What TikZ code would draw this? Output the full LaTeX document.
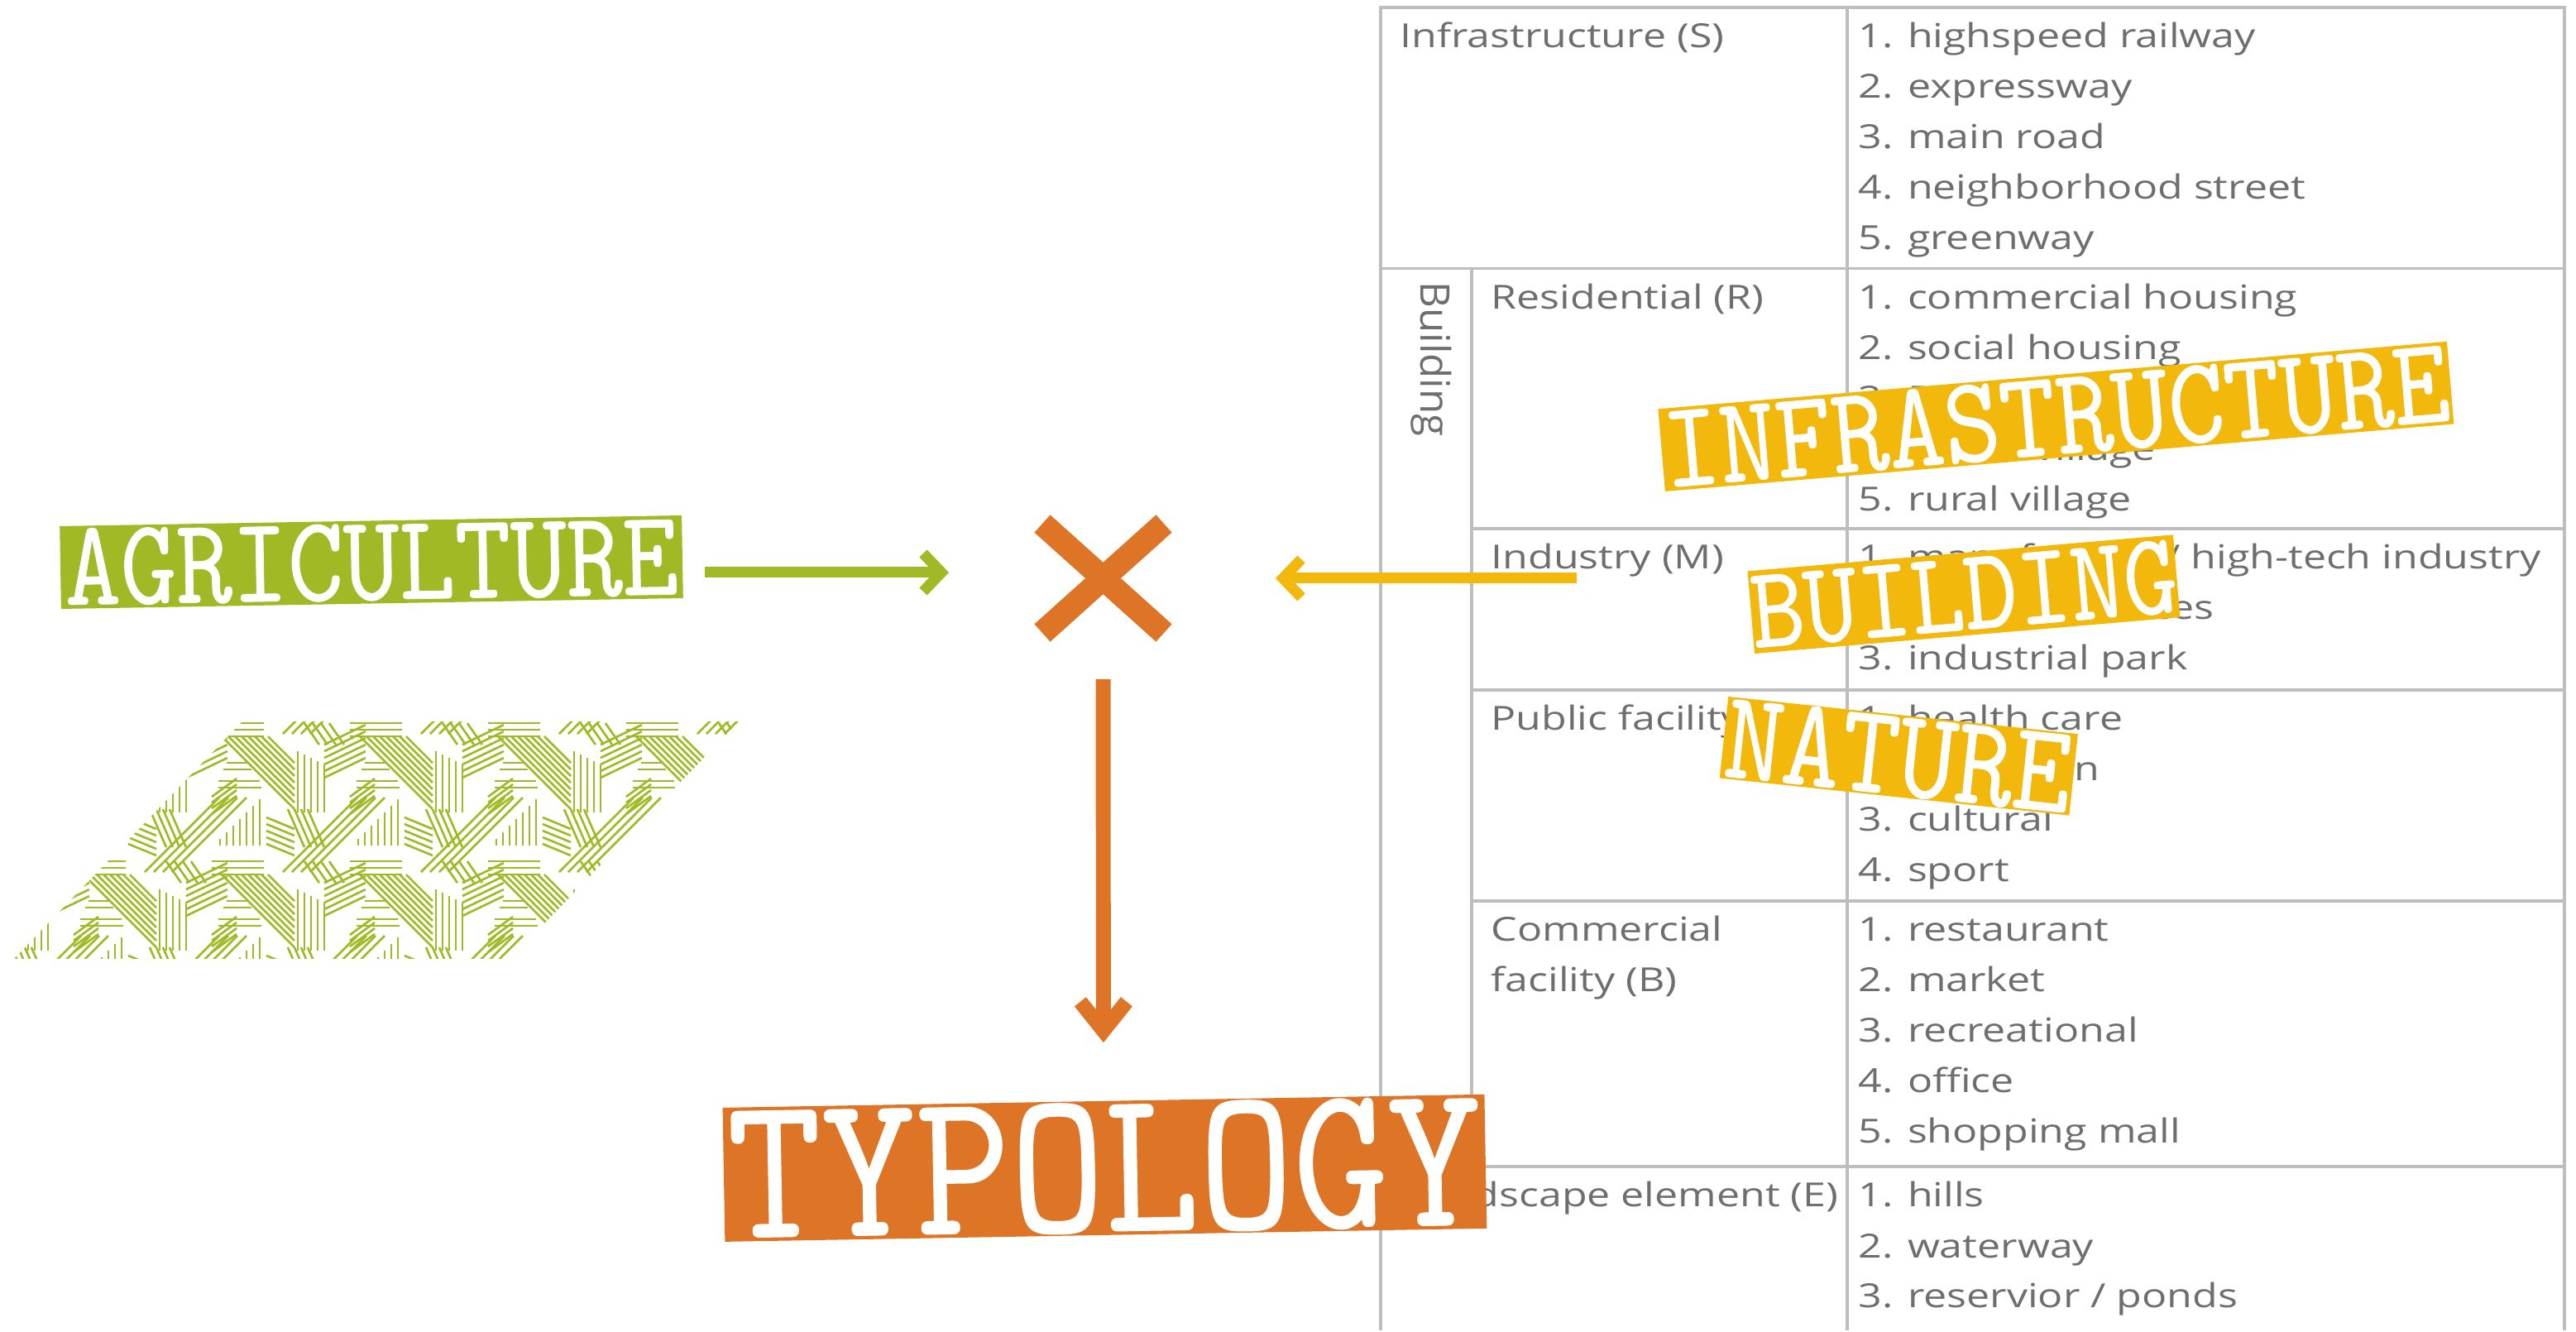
\documentclass[tikz,border=0pt]{standalone}
\usepackage{fontspec}
\newfontfamily\cellfont{Open Sans}[FakeStretch=1.25]
\newfontfamily\sidefont{Open Sans}
\newfontfamily\tagfont{lmmono10-regular.otf}[FakeStretch=0.87, FakeBold=0.5]
\usetikzlibrary{arrows.meta, positioning, shapes.misc}
\definecolor{agrigreen}{RGB}{160,185,37}
\definecolor{typoorange}{RGB}{222,117,38}
\definecolor{infrayellow}{RGB}{242,185,12}
\definecolor{rulegray}{RGB}{190,190,190}
\definecolor{textgray}{RGB}{110,110,110}

\tikzset{
  labelbox/.style 2 args={fill=#1, text=white, inner sep=0pt,
    font=\tagfont\fontsize{#2}{#2}\selectfont},
  cell/.style={anchor=base west, inner sep=0pt, text=textgray,
    font=\cellfont\fontsize{11.4}{13.7}\selectfont},
  tablerule/.style={draw=rulegray, line width=1pt},
  feed/.style={line width=3.7pt, -{Straight Barb[length=2.2mm,width=4.6mm]}},
  % one tile of the field hatching, 167 x 167 units
  weave/.pic={
    \begin{scope}[x=.01cm, y=.01cm, draw=agrigreen, line width=.75pt]
      \foreach \y in {150,158,166} \draw (0,\y) -- (63,\y);
      \foreach \k in {0,...,7} \draw (12+8*\k,150) -- (100,62+8*\k);
      \foreach \k in {0,...,4} \draw (104+8*\k,58) -- (104+8*\k,132-4*\k);
      \foreach \k in {0,...,5} \draw (136,100+8*\k) -- (186,124+8*\k);
      \draw (18,118) -- (44,118) (14,110) -- (48,110)
            (8,96) -- (58,96) (8,88) -- (60,88);
      \foreach \k in {0,...,3} \draw (86+11*\k,-14) -- (176+11*\k,76);
      \foreach \k in {0,...,3} \draw (92+8*\k,62) -- (112+8*\k,16);
      \foreach \k in {0,...,6} \draw (10+8*\k,18) -- (10+8*\k,26+8*\k);
      \foreach \k in {0,...,4} \draw (66,20+8*\k) -- (100,6+8*\k);
      \foreach \k in {0,...,3} \draw (112+10*\k,166) -- (130+10*\k,140);
      \foreach \k in {0,...,3} \draw (0,56+7*\k) -- (30,78+7*\k);
    \end{scope}
  }
}

\begin{document}
\begin{tikzpicture}
  \fill[white] (0,0) rectangle (31.14,16.08);

  % hatched field
  \begin{scope}
    \clip (0.17,4.49) -- (6.17,4.49) -- (8.93,7.36) -- (2.93,7.36) -- cycle;
    \foreach \i in {0,...,6}
      \foreach \j in {-1,0,1}
        \pic at (-0.78+1.67*\i, 5.68+1.67*\j) {weave};
  \end{scope}

  % table frame
  \draw[tablerule] (16.69,0) -- (16.69,15.99) -- (31.00,15.99) -- (31.00,0);
  \draw[tablerule] (22.33,15.99) -- (22.33,0);
  \draw[tablerule] (17.79,12.835) -- (17.79,1.98);
  \foreach \y in {12.835,1.98}
    \draw[tablerule] (16.69,\y) -- (31.00,\y);
  \foreach \y in {9.69,7.74,5.19}
    \draw[tablerule] (17.79,\y) -- (31.00,\y);

  % left column
  \node[cell] (infra-cat) at (16.92,15.50) {Infrastructure (S)};
  \node[cell, rotate=-90, font=\sidefont\fontsize{14}{16}\selectfont]
    (bldg-cat) at (17.17,12.68) {Building};
  \node[cell] (res-cat) at (18.02,12.345) {Residential (R)};
  \node[cell] (ind-cat) at (18.02,9.20) {Industry (M)};
  \node[cell] (pub-cat) at (18.02,7.25) {Public facility (A)};
  \node[cell] (com-cat) at (18.02,4.70) {Commercial};
  \node[cell] (com-cat2) at (18.02,4.09) {facility (B)};
  \node[cell, anchor=base east] (land-cat) at (22.23,1.49) {Landscape element (E)};

  % item lists
  \foreach \t [count=\i from 0] in {1. highspeed railway, 2. expressway,
      3. main road, 4. neighborhood street, 5. greenway}
    \node[cell] (infra-\i) at (22.46,15.50-0.61*\i) {\t};
  \foreach \t [count=\i from 0] in {1. commercial housing, 2. social housing,
      3. Danwei compound, 4. urban village, 5. rural village}
    \node[cell] (res-\i) at (22.46,12.345-0.61*\i) {\t};
  \foreach \t [count=\i from 0] in {1. manufactory / high-tech industry,
      2. business offices, 3. industrial park}
    \node[cell] (ind-\i) at (22.46,9.20-0.61*\i) {\t};
  \foreach \t [count=\i from 0] in {1. health care, 2. education,
      3. cultural, 4. sport}
    \node[cell] (pub-\i) at (22.46,7.25-0.61*\i) {\t};
  \foreach \t [count=\i from 0] in {1. restaurant, 2. market,
      3. recreational, 4. office, 5. shopping mall}
    \node[cell] (com-\i) at (22.46,4.70-0.61*\i) {\t};
  \foreach \t [count=\i from 0] in {1. hills, 2. waterway, 3. reservior / ponds}
    \node[cell] (land-\i) at (22.46,1.49-0.61*\i) {\t};

  % tags
  \node[labelbox={agrigreen}{42}, minimum width=7.52cm, minimum height=1cm,
    rotate=0.99] (agri) at (4.49,9.285) {AGRICULTURE};
  \node[labelbox={infrayellow}{42.4}, minimum width=9.57cm, minimum height=1cm,
    rotate=4.89] (infra) at (24.854,11.046) {INFRASTRUCTURE};
  \node[labelbox={infrayellow}{40.2}, minimum width=5.16cm, minimum height=1cm,
    rotate=4.89] (bldg) at (23.74,8.898) {BUILDING};
  \node[labelbox={infrayellow}{43.6}, minimum width=4.25cm, minimum height=.99cm,
    rotate=-6.1] (nature) at (22.953,6.942) {NATURE};
  \node[labelbox={typoorange}{71}, minimum width=9.21cm, minimum height=1.62cm,
    rotate=1.0] (typo) at (13.354,1.9615) {TYPOLOGY};

  % the crossing
  \node[cross out, draw=typoorange, line width=8.14pt, minimum width=1.47cm,
    minimum height=1.32cm, inner sep=0pt, outer sep=0pt] (cross) at (13.335,9.09) {};

  \coordinate (feedin) at (19.06,9.09);
  \draw[feed, agrigreen, shorten <=2.6mm, shorten >=11.3mm]
    ([yshift=.7mm]cross.west -| agri.east) -- ([yshift=.7mm]cross.west);
  \draw[feed, infrayellow, shorten >=13.5mm] (feedin) -- (cross.east);
  \draw[line width=5.1pt, typoorange, -{Straight Barb[length=3.5mm,width=5.6mm]},
    shorten <=5.6mm, shorten >=7mm] (cross.south) -- (typo.north);
\end{tikzpicture}
\end{document}
